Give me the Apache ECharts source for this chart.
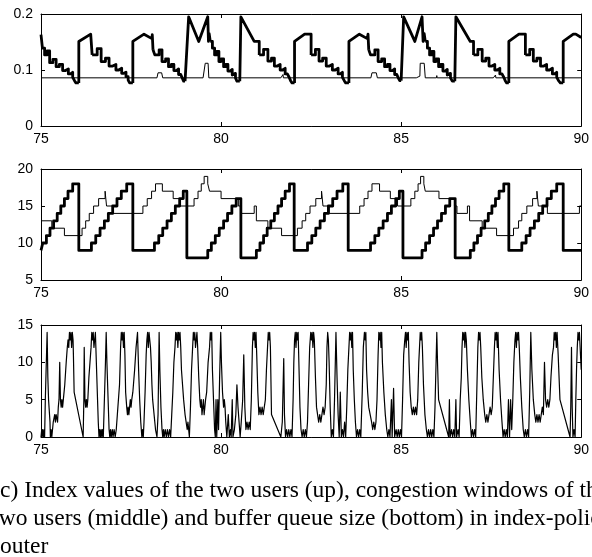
<!DOCTYPE html>
<html><head><meta charset="utf-8">
<script src="https://cdn.jsdelivr.net/npm/echarts@6/dist/echarts.min.js"></script>
<style>html,body{margin:0;padding:0;background:#fff;}#c{width:592px;height:557px;}</style>
</head><body><div id="c"></div>
<script>
// ---- tick labels ----
const xTicks = [75, 80, 85, 90];
const idxTicks = [0, 0.1, 0.2];
const cwndTicks = [5, 10, 15, 20];
const queueTicks = [0, 5, 10, 15];

// ---- panel 1: index of user 1 (thick) : staircase parts (step) ----
const idx1Steps = [
[75.00,0.163],[75.04,0.139],[75.10,0.127],[75.17,0.134],[75.24,0.113],[75.33,0.119],[75.42,0.106],[75.51,0.110],[75.60,0.099],[75.68,0.102],[75.76,0.093],[75.82,0.096],[75.88,0.087],[75.93,0.081],[75.97,0.077],[76.05,0.077],[76.05,'-'],
[76.42,0.127],[76.56,0.138],[76.67,0.115],[76.79,0.121],[76.89,0.107],[76.99,0.110],[77.08,0.100],[77.16,0.103],[77.24,0.094],[77.30,0.096],[77.36,0.088],[77.42,0.082],[77.46,0.077],[77.55,0.077],[77.55,'-'],
[78.11,0.136],[78.16,0.127],[78.28,0.136],[78.36,0.115],[78.46,0.120],[78.54,0.106],[78.62,0.110],[78.69,0.099],[78.76,0.102],[78.82,0.092],[78.88,0.095],[78.92,0.086],[78.96,0.080],[79.00,0.080],[79.00,'-'],
[79.70,0.151],[79.76,0.139],[79.82,0.127],[79.88,0.133],[79.94,0.115],[80.00,0.120],[80.07,0.106],[80.13,0.110],[80.19,0.098],[80.25,0.101],[80.31,0.091],[80.36,0.094],[80.40,0.086],[80.44,0.080],[80.52,0.080],[80.52,'-'],
[81.06,0.127],[81.18,0.137],[81.30,0.116],[81.40,0.121],[81.48,0.107],[81.56,0.110],[81.64,0.100],[81.71,0.103],[81.78,0.093],[81.84,0.096],[81.89,0.087],[81.93,0.081],[81.97,0.077],[82.04,0.077],[82.04,'-'],
[82.50,0.127],[82.62,0.137],[82.72,0.116],[82.82,0.121],[82.92,0.107],[83.01,0.110],[83.09,0.100],[83.17,0.103],[83.25,0.093],[83.31,0.096],[83.37,0.087],[83.42,0.081],[83.46,0.077],[83.55,0.077],[83.55,'-'],
[84.10,0.136],[84.15,0.127],[84.27,0.136],[84.36,0.115],[84.46,0.120],[84.54,0.106],[84.62,0.110],[84.69,0.099],[84.76,0.102],[84.82,0.092],[84.88,0.095],[84.92,0.086],[84.96,0.081],[85.00,0.081],[85.00,'-'],
[85.67,0.151],[85.73,0.139],[85.79,0.127],[85.85,0.133],[85.91,0.115],[85.97,0.120],[86.04,0.106],[86.10,0.110],[86.16,0.098],[86.22,0.101],[86.28,0.091],[86.33,0.094],[86.37,0.086],[86.42,0.080],[86.49,0.080],[86.49,'-'],
[87.01,0.127],[87.13,0.137],[87.25,0.116],[87.35,0.121],[87.44,0.107],[87.52,0.110],[87.60,0.100],[87.67,0.103],[87.74,0.093],[87.80,0.096],[87.85,0.087],[87.89,0.081],[87.93,0.077],[87.99,0.077],[87.99,'-'],
[88.45,0.127],[88.57,0.137],[88.67,0.116],[88.77,0.121],[88.87,0.107],[88.96,0.110],[89.04,0.100],[89.12,0.103],[89.20,0.093],[89.26,0.096],[89.32,0.087],[89.37,0.081],[89.42,0.077],[89.50,0.077]
];
// ---- panel 1: index of user 1 (thick) : jumps and ramps (linear) ----
const idx1Ramps = [
[76.05,0.077],[76.05,0.151],[76.38,0.164],[76.42,0.164],[76.42,0.127],[76.42,'-'],
[77.55,0.077],[77.55,0.151],[77.86,0.164],[78.08,0.156],[78.09,0.163],[78.11,0.163],[78.11,0.136],[78.11,'-'],
[79.00,0.080],[79.10,0.195],[79.38,0.151],[79.63,0.195],[79.65,0.151],[79.67,0.151],[79.67,0.165],[79.70,0.165],[79.70,0.151],[79.70,'-'],
[80.52,0.080],[80.55,0.195],[80.92,0.151],[81.06,0.151],[81.06,0.127],[81.06,'-'],
[82.04,0.077],[82.04,0.151],[82.32,0.164],[82.50,0.164],[82.50,0.127],[82.50,'-'],
[83.55,0.077],[83.55,0.151],[83.84,0.164],[84.06,0.156],[84.08,0.164],[84.10,0.164],[84.10,0.136],[84.10,'-'],
[85.00,0.081],[85.07,0.195],[85.38,0.151],[85.58,0.195],[85.61,0.151],[85.64,0.151],[85.64,0.165],[85.67,0.165],[85.67,0.151],[85.67,'-'],
[86.49,0.080],[86.52,0.195],[86.92,0.151],[87.01,0.151],[87.01,0.127],[87.01,'-'],
[87.99,0.077],[87.99,0.151],[88.27,0.164],[88.45,0.164],[88.45,0.127],[88.45,'-'],
[89.50,0.077],[89.50,0.151],[89.78,0.164],[89.85,0.164],[90.00,0.158]
];
// ---- panel 1: index of user 2 (thin) ----
const idx2 = [
[75.00,0.086],[78.22,0.086],[78.25,0.095],[78.35,0.095],[78.38,0.086],[79.50,0.086],[79.52,0.089],[79.55,0.089],[79.56,0.112],[79.64,0.112],[79.66,0.086],
[81.66,0.086],[81.72,0.092],[81.73,0.086],[84.16,0.086],[84.19,0.095],[84.31,0.095],[84.34,0.086],[85.42,0.086],[85.44,0.089],[85.52,0.089],[85.53,0.112],
[85.64,0.112],[85.67,0.086],[85.98,0.086],[85.99,0.090],[86.00,0.086],[87.56,0.086],[87.62,0.091],[87.63,0.086],[90.00,0.086]
];

// ---- panel 2: congestion window of user 1 (thick), change points ----
const cwnd1 = [
[75.00,9],[75.05,10],[75.15,11],[75.25,12],[75.35,13],[75.45,14],[75.55,15],[75.65,16],[75.75,17],[75.88,18],[76.05,9],
[76.40,10],[76.52,11],[76.64,12],[76.76,13],[76.87,14],[76.99,15],[77.11,16],[77.23,17],[77.38,18],[77.55,9],
[78.15,10],[78.27,11],[78.38,12],[78.50,13],[78.62,14],[78.73,15],[78.85,16],[78.95,17],[79.05,8],
[79.63,9],[79.73,10],[79.84,11],[79.95,12],[80.07,13],[80.18,14],[80.30,15],[80.42,16],[80.55,8],
[80.98,9],[81.08,10],[81.18,11],[81.28,12],[81.38,13],[81.48,14],[81.58,15],[81.68,16],[81.78,17],[81.90,18],[82.03,9],
[82.40,10],[82.52,11],[82.63,12],[82.75,13],[82.87,14],[82.98,15],[83.10,16],[83.22,17],[83.38,18],[83.53,9],
[84.15,10],[84.27,11],[84.38,12],[84.50,13],[84.62,14],[84.73,15],[84.85,16],[84.95,17],[85.05,8],
[85.58,9],[85.68,10],[85.79,11],[85.90,12],[86.01,13],[86.12,14],[86.23,15],[86.35,16],[86.50,8],
[86.92,9],[87.02,10],[87.12,11],[87.22,12],[87.32,13],[87.42,14],[87.52,15],[87.62,16],[87.72,17],[87.85,18],[87.99,9],
[88.35,10],[88.47,11],[88.58,12],[88.70,13],[88.82,14],[88.93,15],[89.05,16],[89.17,17],[89.32,18],[89.50,9],[90.00,9]
];
// ---- panel 2: congestion window of user 2 (thin), change points ----
const cwnd2 = [
[75.00,13],[75.30,12],[75.65,11],[76.14,12],[76.24,13],[76.34,14],[76.46,15],[76.60,16],[76.78,17],[76.82,15],[77.00,14],
[77.83,15],[77.95,16],[78.07,17],[78.18,18],[78.37,17],[78.67,16],[78.87,15],[79.25,16],[79.36,17],[79.45,18],[79.53,19],[79.63,18],[79.68,17],
[80.00,16],[80.48,15],[80.56,14],[80.92,15],[80.98,13],[81.30,12],[81.68,11],
[82.12,12],[82.25,13],[82.35,14],[82.47,15],[82.63,16],[82.79,17],[82.83,15],[83.00,14],
[83.85,15],[83.97,16],[84.08,17],[84.19,18],[84.40,17],[84.70,16],[84.90,15],[85.27,16],[85.38,17],[85.47,18],[85.54,19],[85.63,18],[85.67,17],
[86.05,16],[86.48,15],[86.55,14],[86.84,15],[86.90,13],[87.25,12],[87.65,11],
[88.12,12],[88.26,13],[88.35,14],[88.49,15],[88.65,16],[88.77,17],[88.81,15],[89.06,14],[89.95,15],[90.00,15]
];

// ---- panel 3: buffer queue size ----
const queue = [
[75.00,0],[75.02,1],[75.03,0],[75.05,1],[75.07,0],[75.09,1],[75.10,0],[75.12,5],[75.14,5],[75.17,14],[75.19,8],[75.21,5],[75.23,5],[75.25,2],[75.26,0],
[75.28,1],[75.30,0],[75.32,1],[75.34,2],[75.36,2],[75.38,3],[75.40,2],[75.42,3],[75.44,3],[75.46,2],[75.48,4],[75.50,5],[75.52,10],[75.54,5],[75.56,4],
[75.58,5],[75.60,4],[75.62,5],[75.66,7],[75.70,10],[75.73,12],[75.75,13],[75.77,12],[75.79,14],[75.81,13],[75.83,14],[75.85,12],[75.87,14],[75.89,13],
[75.90,11],[75.92,6],[76.17,0],[76.19,5],[76.20,12],[76.22,5],[76.24,4],[76.26,5],[76.28,4],[76.30,5],[76.33,8],[76.36,10],[76.39,12],[76.41,14],
[76.43,13],[76.45,14],[76.47,12],[76.49,13],[76.51,14],[76.53,11],[76.55,8],[76.57,5],[76.59,2],[76.61,0],[76.63,1],[76.65,0],[76.67,1],[76.69,0],
[76.71,1],[76.73,0],[76.76,5],[76.79,10],[76.81,14],[76.83,10],[76.85,7],[76.87,4],[76.89,1],[76.91,0],[76.93,1],[76.95,0],[76.98,1],
[77.00,0],[77.03,1],[77.06,0],[77.09,1],[77.12,3],[77.15,3],[77.18,7],[77.21,12],[77.23,14],[77.25,13],[77.27,14],[77.29,12],[77.31,14],[77.33,11],
[77.35,6],[77.38,4],[77.40,3],[77.42,4],[77.44,3],[77.46,4],[77.48,5],[77.50,4],[77.52,5],[77.55,6],[77.60,9],[77.64,12],[77.68,14],[77.71,9],[77.74,5],
[77.77,2],[77.80,0],[77.82,1],[77.84,0],[77.86,2],[77.89,6],[77.92,11],[77.94,13],[77.96,14],[77.98,12],[78.00,14],[78.02,13],[78.04,12],[78.06,10],
[78.08,7],[78.10,5],[78.14,3],[78.18,1],[78.22,0],[78.25,3],[78.28,14],[78.30,9],[78.33,4],[78.36,1],[78.38,0],[78.40,1],[78.42,0],[78.45,1],[78.48,0],
[78.51,1],[78.54,0],[78.57,1],[78.60,0],[78.63,3],[78.66,6],[78.69,10],[78.72,12],[78.74,14],[78.76,13],[78.78,14],[78.80,12],[78.82,14],[78.84,13],
[78.86,14],[78.88,12],[78.90,9],[78.93,7],[78.96,5],[79.00,3],[79.03,2],[79.06,1],[79.08,2],[79.10,1],[79.12,0],[79.15,4],[79.18,9],[79.21,12],[79.23,14],
[79.25,13],[79.27,14],[79.29,12],[79.31,13],[79.33,14],[79.35,12],[79.38,8],[79.41,5],[79.43,4],[79.45,5],[79.47,3],[79.49,4],[79.51,5],[79.53,3],[79.55,4],
[79.57,5],[79.60,6],[79.64,10],[79.68,12],[79.70,14],[79.72,13],[79.74,14],[79.76,9],[79.79,5],[79.82,1],[79.84,0],[79.86,5],[79.88,0],[79.91,5],[79.93,1],
[79.96,8],[79.99,14],[80.01,10],[80.04,6],[80.07,4],[80.09,5],[80.11,4],[80.13,2],[80.16,0],[80.20,3],[80.23,0],[80.26,1],[80.28,0],[80.31,5],[80.33,0],
[80.37,1],[80.41,3],[80.44,7],[80.47,4],[80.50,2],[80.53,0],[80.56,2],[80.60,5],[80.63,11],[80.66,4],[80.69,1],[80.72,2],[80.75,1],[80.78,2],[80.81,1],
[80.84,5],[80.87,12],[80.89,14],[80.91,13],[80.93,14],[80.95,12],[80.97,14],[80.99,11],[81.02,6],[81.05,3],[81.08,4],[81.11,3],[81.14,4],[81.17,3],
[81.20,4],[81.23,5],[81.26,9],[81.29,12],[81.31,14],[81.33,13],[81.35,14],[81.37,12],[81.40,3],[81.66,0],[81.70,2],[81.74,10.5],[81.76,3],[81.79,0],
[81.82,1],[81.85,0],[81.88,1],[81.91,0],[81.94,1],[81.97,0],[82.00,5],[82.02,10],[82.04,13],[82.06,14],[82.08,12],[82.10,14],[82.12,13],[82.14,14],
[82.16,10],[82.19,4],[82.22,1],[82.25,0],[82.28,1],[82.31,0],[82.34,1],[82.37,0],[82.40,2],[82.43,7],[82.46,12],[82.49,14],[82.51,13],[82.53,14],
[82.55,12],[82.57,14],[82.59,13],[82.62,8],[82.65,4],[82.68,3],[82.71,2],[82.74,3],[82.77,2],[82.80,3],[82.83,4],[82.86,3],[82.89,4],[82.92,7],
[82.94,12],[82.96,14],[82.98,13],[83.00,10],[83.03,4],[83.06,0],[83.09,1],[83.12,0],[83.15,5],[83.19,14],[83.22,8],[83.25,3],[83.28,0],[83.31,6],
[83.34,0],[83.37,1],[83.40,0],[83.43,2],[83.46,0],[83.49,4],[83.52,9],[83.55,12],[83.57,14],[83.59,13],[83.61,14],[83.63,12],[83.65,14],[83.67,9],
[83.70,5],[83.73,2],[83.76,0],[83.79,1],[83.82,0],[83.85,1],[83.88,0],[83.92,6],[83.95,12],[83.98,14],[84.00,13],[84.02,14],[84.04,9],[84.07,6],
[84.10,4],[84.14,3],[84.18,2],[84.21,1],[84.24,2],[84.27,1],[84.30,2],[84.33,5],[84.36,11],[84.38,14],[84.40,13],[84.42,14],[84.44,12],[84.46,14],
[84.48,10],[84.52,6],[84.56,3],[84.60,1],[84.63,0],[84.66,1],[84.69,0],[84.73,5],[84.75,0],[84.79,6.5],[84.82,0],[84.86,1],[84.89,0],[84.92,1],
[84.95,0],[84.98,1],[85.01,0],[85.04,5],[85.07,11],[85.10,13],[85.12,14],[85.14,12],[85.16,14],[85.18,13],[85.20,14],[85.22,10],[85.25,6],[85.28,4],
[85.31,3],[85.34,4],[85.37,3],[85.40,4],[85.43,3],[85.46,5],[85.49,10],[85.51,12],[85.53,14],[85.55,13],[85.57,14],[85.59,12],[85.62,7],[85.66,3],
[85.70,1],[85.73,0],[85.76,1],[85.79,0],[85.82,1],[85.85,0],[85.88,1],[85.91,0],[85.94,4],[85.97,10],[85.99,14],[86.01,10],[86.04,5],[86.32,0],
[86.34,5],[86.36,0],[86.40,1],[86.43,0],[86.46,1],[86.49,0],[86.52,5],[86.54,0],[86.58,1],[86.61,0],[86.64,5],[86.67,8],[86.69,12],[86.71,14],
[86.73,13],[86.75,14],[86.77,12],[86.79,14],[86.81,13],[86.84,9],[86.88,5],[86.92,2],[86.95,0],[86.98,1],[87.01,0],[87.04,1],[87.07,0],[87.10,6],
[87.13,12],[87.15,14],[87.17,13],[87.19,14],[87.21,12],[87.24,8],[87.28,5],[87.32,3],[87.35,2],[87.38,3],[87.41,2],[87.44,3],[87.47,4],[87.50,3],
[87.53,4],[87.56,8],[87.59,12],[87.61,14],[87.63,13],[87.65,14],[87.67,12],[87.69,14],[87.72,9],[87.76,5],[87.80,2],[87.83,0],[87.86,1],[87.89,0],
[87.92,1],[87.95,0],[87.98,5],[88.01,0],[88.04,5],[88.07,1],[88.10,5],[88.13,10],[88.16,13],[88.18,14],[88.20,12],[88.22,14],[88.24,13],[88.26,14],
[88.28,12],[88.31,8],[88.35,4],[88.39,1],[88.42,0],[88.45,1],[88.48,0],[88.51,1],[88.54,0],[88.57,6],[88.60,14],[88.63,9],[88.67,5],[88.71,3],
[88.74,2],[88.77,3],[88.80,2],[88.83,3],[88.86,2],[88.89,3],[88.92,4],[88.95,3],[88.98,10],[89.01,5],[89.04,4],[89.07,5],[89.10,4],[89.13,5],
[89.16,8],[89.20,11],[89.23,12],[89.25,14],[89.27,13],[89.29,14],[89.31,12],[89.33,14],[89.36,11],[89.41,5],[89.69,0],[89.71,4],[89.73,12],[89.75,4],
[89.77,0],[89.80,1],[89.83,0],[89.85,5],[89.87,9],[89.89,12],[89.91,14],[89.93,13],[89.95,14],[89.97,12],[90.00,9]
];

// ---- caption ----
const captionLines = [
  '(c) Index values of the two users (up), congestion windows of the',
  'two users (middle) and buffer queue size (bottom) in index-policy',
  'router'
];

const FONT = 'Liberation Sans';
const grids = [
  {left: 41, top: 14, width: 542, height: 112},
  {left: 41, top: 169, width: 542, height: 111},
  {left: 41, top: 325, width: 542, height: 112}
];
const yRanges = [
  {ticks: idxTicks}, {ticks: cwndTicks}, {ticks: queueTicks}
];

const xAxes = [], yAxes = [];
grids.forEach((g, i) => {
  xAxes.push({
    gridIndex: i, type: 'value', position: 'bottom',
    min: xTicks[0], max: xTicks[xTicks.length - 1], interval: xTicks[1] - xTicks[0],
    axisLine: {show: true, onZero: false, lineStyle: {color: '#000', width: 1}},
    axisTick: {show: true, inside: true, length: 4, lineStyle: {color: '#000'}},
    axisLabel: {show: true, color: '#000', fontSize: 14, fontFamily: FONT, margin: 6},
    splitLine: {show: false}
  });
  xAxes.push({
    gridIndex: i, type: 'value', position: 'top',
    min: xTicks[0], max: xTicks[xTicks.length - 1], interval: xTicks[1] - xTicks[0],
    axisLine: {show: true, onZero: false, lineStyle: {color: '#000', width: 1}},
    axisTick: {show: true, inside: true, length: 4, lineStyle: {color: '#000'}},
    axisLabel: {show: false}, splitLine: {show: false}
  });
  const t = yRanges[i].ticks;
  yAxes.push({
    gridIndex: i, type: 'value', position: 'left',
    min: t[0], max: t[t.length - 1], interval: t[1] - t[0],
    axisLine: {show: true, onZero: false, lineStyle: {color: '#000', width: 1}},
    axisTick: {show: true, inside: true, length: 4, lineStyle: {color: '#000'}},
    axisLabel: {show: true, color: '#000', fontSize: 14, fontFamily: FONT, margin: 8},
    splitLine: {show: false}
  });
  yAxes.push({
    gridIndex: i, type: 'value', position: 'right',
    min: t[0], max: t[t.length - 1], interval: t[1] - t[0],
    axisLine: {show: true, onZero: false, lineStyle: {color: '#000', width: 1}},
    axisTick: {show: true, inside: true, length: 4, lineStyle: {color: '#000'}},
    axisLabel: {show: false}, splitLine: {show: false}
  });
});

function line(data, xi, yi, width, step) {
  return {
    type: 'line', data: data, xAxisIndex: xi, yAxisIndex: yi,
    showSymbol: false, symbol: 'none', step: step || false, connectNulls: false,
    lineStyle: {color: '#000', width: width, join: 'round', cap: 'butt'},
    silent: true, clip: true, animation: false
  };
}

const option = {
  animation: false,
  backgroundColor: '#fff',
  grid: grids,
  xAxis: xAxes,
  yAxis: yAxes,
  series: [
    line(idx2, 0, 0, 1),
    line(idx1Steps, 0, 0, 2.8, 'end'),
    line(idx1Ramps, 0, 0, 2.8),
    line(cwnd2, 2, 2, 1, 'end'),
    line(cwnd1, 2, 2, 2.8, 'end'),
    line(queue, 4, 4, 1.2)
  ],
  graphic: captionLines.map((txt, i) => ({
    type: 'text', x: -7.8, y: 491 + i * 28,
    style: {text: txt, fill: '#000', font: '23.5px "Liberation Serif"', verticalAlign: 'middle', align: 'left'}
  }))
};

const chart = echarts.init(document.getElementById('c'), null, {renderer: 'canvas'});
chart.setOption(option);
</script>
</body></html>
